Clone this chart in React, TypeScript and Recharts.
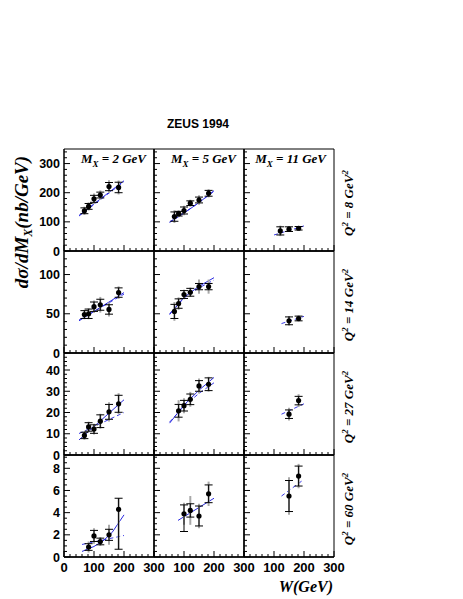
import React from 'react';
import { ComposedChart, XAxis, YAxis, Scatter, Line, ErrorBar, ReferenceArea } from 'recharts';

// ---- W bins (GeV) ----
const w6 = [68, 82, 100, 121, 150, 182];
const w5 = [82, 100, 121, 150, 182];
const w4 = [100, 121, 150, 182];
const w3 = [121, 150, 182];
const w2 = [150, 182];

// ---- Q2 = 8 GeV2 ----
const q8mx2 = [138, 153, 179, 192, 221, 218];
const q8mx2Stat = [10, 10, 12, 10, 14, 18];
const q8mx2Tot = [14, 14, 18, 16, 22, 24];
const q8mx5 = [118, 128, 139, 164, 175, 198];
const q8mx5Stat = [16, 8, 12, 8, 10, 10];
const q8mx5Tot = [22, 12, 16, 12, 16, 14];
const q8mx11 = [69, 75, 78];
const q8mx11Stat = [14, 8, 6];
const q8mx11Tot = [18, 10, 8];

// ---- Q2 = 14 GeV2 ----
const q14mx2 = [49, 50, 59, 61.5, 55.5, 77];
const q14mx2Stat = [5, 6, 6, 7, 6, 6];
const q14mx2Tot = [6, 7, 8, 10, 9, 8];
const q14mx5 = [53, 63, 74.5, 77.4, 84.6, 84.6];
const q14mx5Stat = [9, 6, 5, 5, 4, 4];
const q14mx5Tot = [12, 8, 6, 6, 9, 9];
const q14mx11 = [41, 44];
const q14mx11Stat = [5, 3];
const q14mx11Tot = [6, 4];

// ---- Q2 = 27 GeV2 ----
const q27mx2 = [9.2, 13.2, 12.2, 15.9, 20.3, 24.1];
const q27mx2Stat = [1.5, 2, 2, 3, 3.5, 4];
const q27mx2Tot = [2, 2.5, 2.5, 3.5, 4.5, 5];
const q27mx5 = [20.8, 23.2, 26.2, 32.5, 33.3];
const q27mx5Stat = [3, 2.5, 2.5, 2.5, 3];
const q27mx5Tot = [5, 3.5, 3.5, 3.5, 3.5];
const q27mx11 = [19.2, 25.6];
const q27mx11Stat = [2, 2];
const q27mx11Tot = [3, 3];

// ---- Q2 = 60 GeV2 ----
const q60mx2 = [0.9, 1.9, 1.4, 2.0, 4.3];
const q60mx2Stat: (number | number[])[] = [0.3, 0.5, 0.3, 0.5, [3.6, 1.0]];
const q60mx2Tot: (number | number[])[] = [0.5, 0.7, 0.4, 0.9, [3.6, 1.0]];
const q60mx5 = [3.9, 4.2, 3.7, 5.7];
const q60mx5Stat: (number | number[])[] = [[1.6, 0.8], 0.6, 0.9, 0.8];
const q60mx5Tot: (number | number[])[] = [1.0, 1.3, 1.1, 1.1];
const q60mx11 = [5.5, 7.3];
const q60mx11Stat = [1.4, 0.9];
const q60mx11Tot = [1.7, 1.1];

// ---- Fit curves ----
const fitW2 = [50, 200];
const fitW5 = [52, 100, 150, 200];
const fitW11 = [125, 200];

const q8mx2Solid = [122, 241];
const q8mx2Dashed = [120, 238];
const q8mx5Solid = [98, 130, 166, 207];
const q8mx5Dashed = [100, 131, 166, 205];
const q8mx11Dashed = [55, 86];

const q14mx2Solid = [41, 77];
const q14mx2Dashed = [42, 75];
const q14mx5Solid = [49, 71, 85, 96];
const q14mx5Dashed = [50, 70, 83, 93];
const q14mx11Dashed = [37.5, 46.7];

const q27mx2Solid = [7.1, 26];
const q27mx2Dashed = [10.1, 20];
const q27mx5Solid = [15, 23.5, 30.5, 36.5];
const q27mx5Dashed = [15.5, 23, 29, 34];
const q27mx11Dashed = [19.2, 24.1];

const fitW60 = [60, 100, 130, 160, 200];
const q60mx2Solid = [0.5, 0.95, 1.45, 2.2, 3.8];
const q60mx2DashedW = [60, 200];
const q60mx2Dashed = [1.13, 1.94];
const fitW60b = [80, 200];
const q60mx5Solid = [3.3, 5.3];
const q60mx11Dashed = [5.5, 7.0];

// ---- Labels ----
const mxLabels = ['2', '5', '11'];
const q2Labels = ['8', '14', '27', '60'];
const xTicks = [0, 20, 40, 60, 80, 100, 120, 140, 160, 180, 200, 220, 240, 260, 280, 300];

const rowCfg = [
  { max: 350, step: 20, major: 100 },
  { max: 130, step: 10, major: 50 },
  { max: 48, step: 2, major: 10 },
  { max: 9.2, step: 0.5, major: 2 },
];

const rowTops = [149, 251, 353, 455];
const rowH = 102;
const colLefts = [64, 154, 244];
const colW = 90;
const mL = 40, mR = 22, mT = 6, mB = 24;

const pts = (w: number[], v: number[], s: any[], t: any[]) =>
  w.map((x, i) => ({ w: x, v: v[i], stat: s[i], tot: t[i] }));
const line = (w: number[], v: number[]) => w.map((x, i) => ({ w: x, v: v[i] }));

type Panel = {
  data: any[];
  solid?: any[];
  dashed?: any[];
};

const panels: Panel[][] = [
  [
    { data: pts(w6, q8mx2, q8mx2Stat, q8mx2Tot), solid: line(fitW2, q8mx2Solid), dashed: line(fitW2, q8mx2Dashed) },
    { data: pts(w6, q8mx5, q8mx5Stat, q8mx5Tot), solid: line(fitW5, q8mx5Solid), dashed: line(fitW5, q8mx5Dashed) },
    { data: pts(w3, q8mx11, q8mx11Stat, q8mx11Tot), dashed: line([100, 200], q8mx11Dashed) },
  ],
  [
    { data: pts(w6, q14mx2, q14mx2Stat, q14mx2Tot), solid: line(fitW2, q14mx2Solid), dashed: line(fitW2, q14mx2Dashed) },
    { data: pts(w6, q14mx5, q14mx5Stat, q14mx5Tot), solid: line(fitW5, q14mx5Solid), dashed: line(fitW5, q14mx5Dashed) },
    { data: pts(w2, q14mx11, q14mx11Stat, q14mx11Tot), dashed: line(fitW11, q14mx11Dashed) },
  ],
  [
    { data: pts(w6, q27mx2, q27mx2Stat, q27mx2Tot), solid: line(fitW2, q27mx2Solid), dashed: line(fitW2, q27mx2Dashed) },
    { data: pts(w5, q27mx5, q27mx5Stat, q27mx5Tot), solid: line(fitW5, q27mx5Solid), dashed: line(fitW5, q27mx5Dashed) },
    { data: pts(w2, q27mx11, q27mx11Stat, q27mx11Tot), dashed: line(fitW11, q27mx11Dashed) },
  ],
  [
    { data: pts(w5, q60mx2, q60mx2Stat, q60mx2Tot), solid: line(fitW60, q60mx2Solid), dashed: line(q60mx2DashedW, q60mx2Dashed) },
    { data: pts(w4, q60mx5, q60mx5Stat, q60mx5Tot), solid: line(fitW60b, q60mx5Solid) },
    { data: pts(w2, q60mx11, q60mx11Stat, q60mx11Tot), dashed: line(fitW11, q60mx11Dashed) },
  ],
];

const isMajor = (v: number, major: number) => Math.abs(v / major - Math.round(v / major)) < 1e-6;

const makeXTick = (showLabel: boolean, showZero: boolean) => (props: any) => {
  const { x, y, payload } = props;
  const v = payload.value;
  const mj = isMajor(v, 100);
  return (
    <g>
      <line x1={x} x2={x} y1={y} y2={y - (mj ? 6 : 3)} stroke="#000" strokeWidth={1} />
      {showLabel && mj && (showZero || v !== 0) && (
        <text x={x} y={y + 15} textAnchor="middle" fontFamily="Liberation Sans, Arial, sans-serif" fontWeight="bold" fontSize={13} fill="#000">
          {v}
        </text>
      )}
    </g>
  );
};

const makeYTick = (major: number, showLabel: boolean) => (props: any) => {
  const { x, y, payload } = props;
  const v = payload.value;
  const mj = isMajor(v, major);
  return (
    <g>
      <line x1={x} x2={x + (mj ? 6 : 3)} y1={y} y2={y} stroke="#000" strokeWidth={1} />
      {showLabel && mj && (
        <text x={x - 4} y={y} dy={4.5} textAnchor="end" fontFamily="Liberation Sans, Arial, sans-serif" fontWeight="bold" fontSize={12.5} fill="#000">
          {v}
        </text>
      )}
    </g>
  );
};

const Dot = (props: any) => <circle cx={props.cx} cy={props.cy} r={2.6} fill="#000" />;

const PanelChart = ({ p, r, c }: { p: Panel; r: number; c: number }) => {
  const cfg = rowCfg[r];
  const yTicks: number[] = [];
  for (let v = 0; v <= cfg.max + 1e-9; v += cfg.step) yTicks.push(Math.round(v * 1000) / 1000);
  return (
    <div style={{ position: 'absolute', left: colLefts[c] - mL, top: rowTops[r] - mT }}>
      <ComposedChart width={colW + mL + mR} height={rowH + mT + mB} margin={{ left: mL - 1, right: mR, top: mT, bottom: mB - 1 }}>
        <XAxis
          type="number"
          dataKey="w"
          domain={[0, 300]}
          ticks={xTicks}
          interval={0}
          tickSize={0}
          tickMargin={0}
          height={1}
          allowDataOverflow
          tickLine={false}
          axisLine={{ stroke: '#000', strokeWidth: 1.5 }}
          tick={makeXTick(r === 3, c === 0)}
        />
        <YAxis
          type="number"
          dataKey="v"
          domain={[0, cfg.max]}
          ticks={yTicks}
          interval={0}
          tickSize={0}
          tickMargin={0}
          width={1}
          allowDataOverflow
          tickLine={false}
          axisLine={{ stroke: '#000', strokeWidth: 1 }}
          tick={makeYTick(cfg.major, c === 0)}
        />
        <ReferenceArea x1={0} x2={300} y1={0} y2={cfg.max} fill="none" fillOpacity={0} stroke="#000" strokeWidth={1} ifOverflow="visible" />
        {p.dashed && (
          <Line data={p.dashed} dataKey="v" stroke="#3a3ae8" strokeWidth={1} strokeDasharray="4 3" dot={false} isAnimationActive={false} />
        )}
        {p.solid && (
          <Line data={p.solid} dataKey="v" stroke="#2a2ae0" strokeWidth={1} dot={false} isAnimationActive={false} />
        )}
        <Scatter data={p.data} dataKey="v" shape={Dot} isAnimationActive={false}>
          <ErrorBar dataKey="tot" direction="y" width={0} stroke="#a8a8a8" strokeWidth={2} isAnimationActive={false} />
          <ErrorBar dataKey="stat" direction="y" width={4} stroke="#000" strokeWidth={1} isAnimationActive={false} />
        </Scatter>
      </ComposedChart>
    </div>
  );
};

const serif = 'Liberation Serif, Times New Roman, serif';

export default function App() {
  return (
    <div style={{ position: 'absolute', left: 0, top: 0, width: 463, height: 599, background: '#fff' }}>
      {panels.map((row, r) => row.map((p, c) => <PanelChart key={`${r}-${c}`} p={p} r={r} c={c} />))}
      <svg width={463} height={599} style={{ position: 'absolute', left: 0, top: 0, pointerEvents: 'none' }}>
        <text x={198} y={128} textAnchor="middle" fontFamily="Liberation Sans, Arial, sans-serif" fontWeight="bold" fontSize={12}>
          ZEUS 1994
        </text>
        {mxLabels.map((m, c) => (
          <text key={m} x={colLefts[c] + colW - 8} y={163} textAnchor="end" fontFamily={serif} fontWeight="bold" fontStyle="italic" fontSize={13}>
            M<tspan fontSize={9} dy={3.5}>X</tspan>
            <tspan dy={-3.5}>{` = ${m} GeV`}</tspan>
          </text>
        ))}
        {q2Labels.map((q, r) => {
          const cx = 353;
          const cy = rowTops[r] + rowH / 2 + 3;
          return (
            <text key={q} x={cx} y={cy} transform={`rotate(-90, ${cx}, ${cy})`} textAnchor="middle" fontFamily={serif} fontWeight="bold" fontStyle="italic" fontSize={13}>
              Q<tspan fontSize={9} dy={-5}>2</tspan>
              <tspan dy={5}>{` = ${q} GeV`}</tspan>
              <tspan fontSize={9} dy={-5}>2</tspan>
            </text>
          );
        })}
        <text x={28} y={222} transform="rotate(-90, 28, 222)" textAnchor="middle" fontFamily={serif} fontWeight="bold" fontStyle="italic" fontSize={19}>
          dσ/dM<tspan fontSize={12} dy={4}>X</tspan>
          <tspan dy={-4}>(nb/GeV)</tspan>
        </text>
        <text x={333} y={592} textAnchor="end" fontFamily={serif} fontWeight="bold" fontStyle="italic" fontSize={16}>
          W(GeV)
        </text>
      </svg>
    </div>
  );
}
